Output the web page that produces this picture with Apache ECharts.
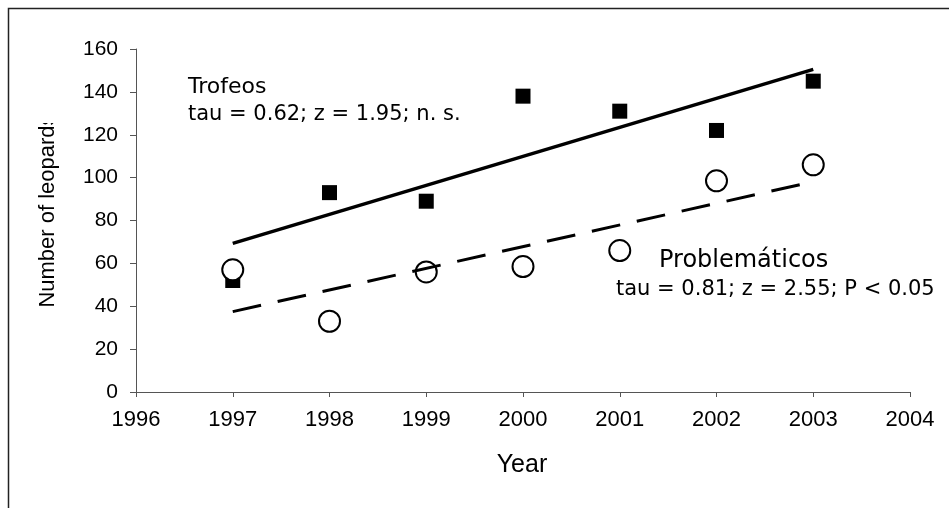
<!DOCTYPE html>
<html>
<head>
<meta charset="utf-8">
<script src="https://cdn.jsdelivr.net/npm/echarts@6/dist/echarts.min.js"></script>
<style>html,body{margin:0;padding:0;background:#fff}#c{width:949px;height:508px}</style>
</head>
<body>
<div id="c"></div>
<script>
var years = [1997, 1998, 1999, 2000, 2001, 2002, 2003];
var trofeos = [52, 93, 89, 138, 131, 122, 145];
var problematicos = [57, 33, 56, 58.5, 66, 98.5, 106];
var trofeosTrend = [[1997, 69.3], [2003, 150.5]];
var problematicosTrend = [[1997, 37.5], [2003, 98.1]];
var xTicks = [1996, 1997, 1998, 1999, 2000, 2001, 2002, 2003, 2004];
var yTicks = [0, 20, 40, 60, 80, 100, 120, 140, 160];

var chart = echarts.init(document.getElementById('c'), null, {renderer: 'canvas'});
function pairs(xs, ys) { return xs.map(function (x, i) { return [x, ys[i]]; }); }
var AX = '#555';
chart.setOption({
  animation: false,
  backgroundColor: '#fff',
  grid: {left: 136, right: 39, top: 49, bottom: 116, containLabel: false},
  xAxis: {
    type: 'value', min: xTicks[0], max: xTicks[xTicks.length - 1], interval: 1,
    axisLine: {show: true, onZero: false, lineStyle: {color: AX, width: 1}},
    axisTick: {show: true, inside: false, length: 5, lineStyle: {color: AX}},
    splitLine: {show: false},
    axisLabel: {color: '#000', fontFamily: 'Liberation Sans, Arial, sans-serif', fontSize: 22, margin: 17,
      formatter: function (v) { return String(v); }}
  },
  yAxis: {
    type: 'value', min: yTicks[0], max: yTicks[yTicks.length - 1], interval: 20,
    axisLine: {show: true, onZero: false, lineStyle: {color: AX, width: 1}},
    axisTick: {show: true, inside: false, length: 6, lineStyle: {color: AX}},
    splitLine: {show: false},
    axisLabel: {color: '#000', fontFamily: 'Liberation Sans, Arial, sans-serif', fontSize: 21, margin: 18}
  },
  series: [
    {name: 'Trofeos', type: 'scatter', data: pairs(years, trofeos), symbol: 'rect', symbolSize: 15,
      itemStyle: {color: '#000', opacity: 1}, z: 2},
    {name: 'Problemáticos', type: 'scatter', data: pairs(years, problematicos), symbol: 'circle', symbolSize: 21,
      itemStyle: {color: '#fff', borderColor: '#000', borderWidth: 2, opacity: 1}, z: 3},
    {name: 'Trofeos trend', type: 'line', data: trofeosTrend, showSymbol: false, symbol: 'none',
      lineStyle: {color: '#000', width: 3.5, type: 'solid'}, z: 4},
    {name: 'Problemáticos trend', type: 'line', data: problematicosTrend, showSymbol: false, symbol: 'none',
      lineStyle: {color: '#000', width: 3, type: [29, 17]}, z: 4}
  ],
  graphic: [
    {type: 'rect', shape: {x: 8.5, y: 8.5, width: 1200, height: 800}, style: {fill: 'none', stroke: '#222', lineWidth: 1.5}, silent: true, z: 0},
    {type: 'text', x: 188, y: 87, style: {text: 'Trofeos', font: '22px "DejaVu Sans", sans-serif', fill: '#000', verticalAlign: 'middle', align: 'left'}},
    {type: 'text', x: 188, y: 115, style: {text: 'tau = 0.62; z = 1.95; n. s.', font: '21px "DejaVu Sans", sans-serif', fill: '#000', verticalAlign: 'middle', align: 'left'}},
    {type: 'text', x: 659, y: 261, style: {text: 'Problemáticos', font: '24px "DejaVu Sans", sans-serif', fill: '#000', verticalAlign: 'middle', align: 'left'}},
    {type: 'text', x: 616, y: 290, style: {text: 'tau = 0.81; z = 2.55; P < 0.05', font: '21px "DejaVu Sans", sans-serif', fill: '#000', verticalAlign: 'middle', align: 'left'}},
    {type: 'text', x: 522, y: 465, style: {text: 'Year', font: '25px "Liberation Sans", Arial, sans-serif', fill: '#000', verticalAlign: 'middle', align: 'center'}},
    {type: 'text', x: 48, y: 211, rotation: Math.PI / 2, style: {text: 'Number of leopards', font: '22px "Liberation Sans", Arial, sans-serif', fill: '#000', verticalAlign: 'middle', align: 'center'}, z: 10},
    {type: 'rect', shape: {x: 30, y: 60, width: 40, height: 63}, style: {fill: '#fff'}, silent: true, z: 11}
  ]
});
</script>
</body>
</html>
